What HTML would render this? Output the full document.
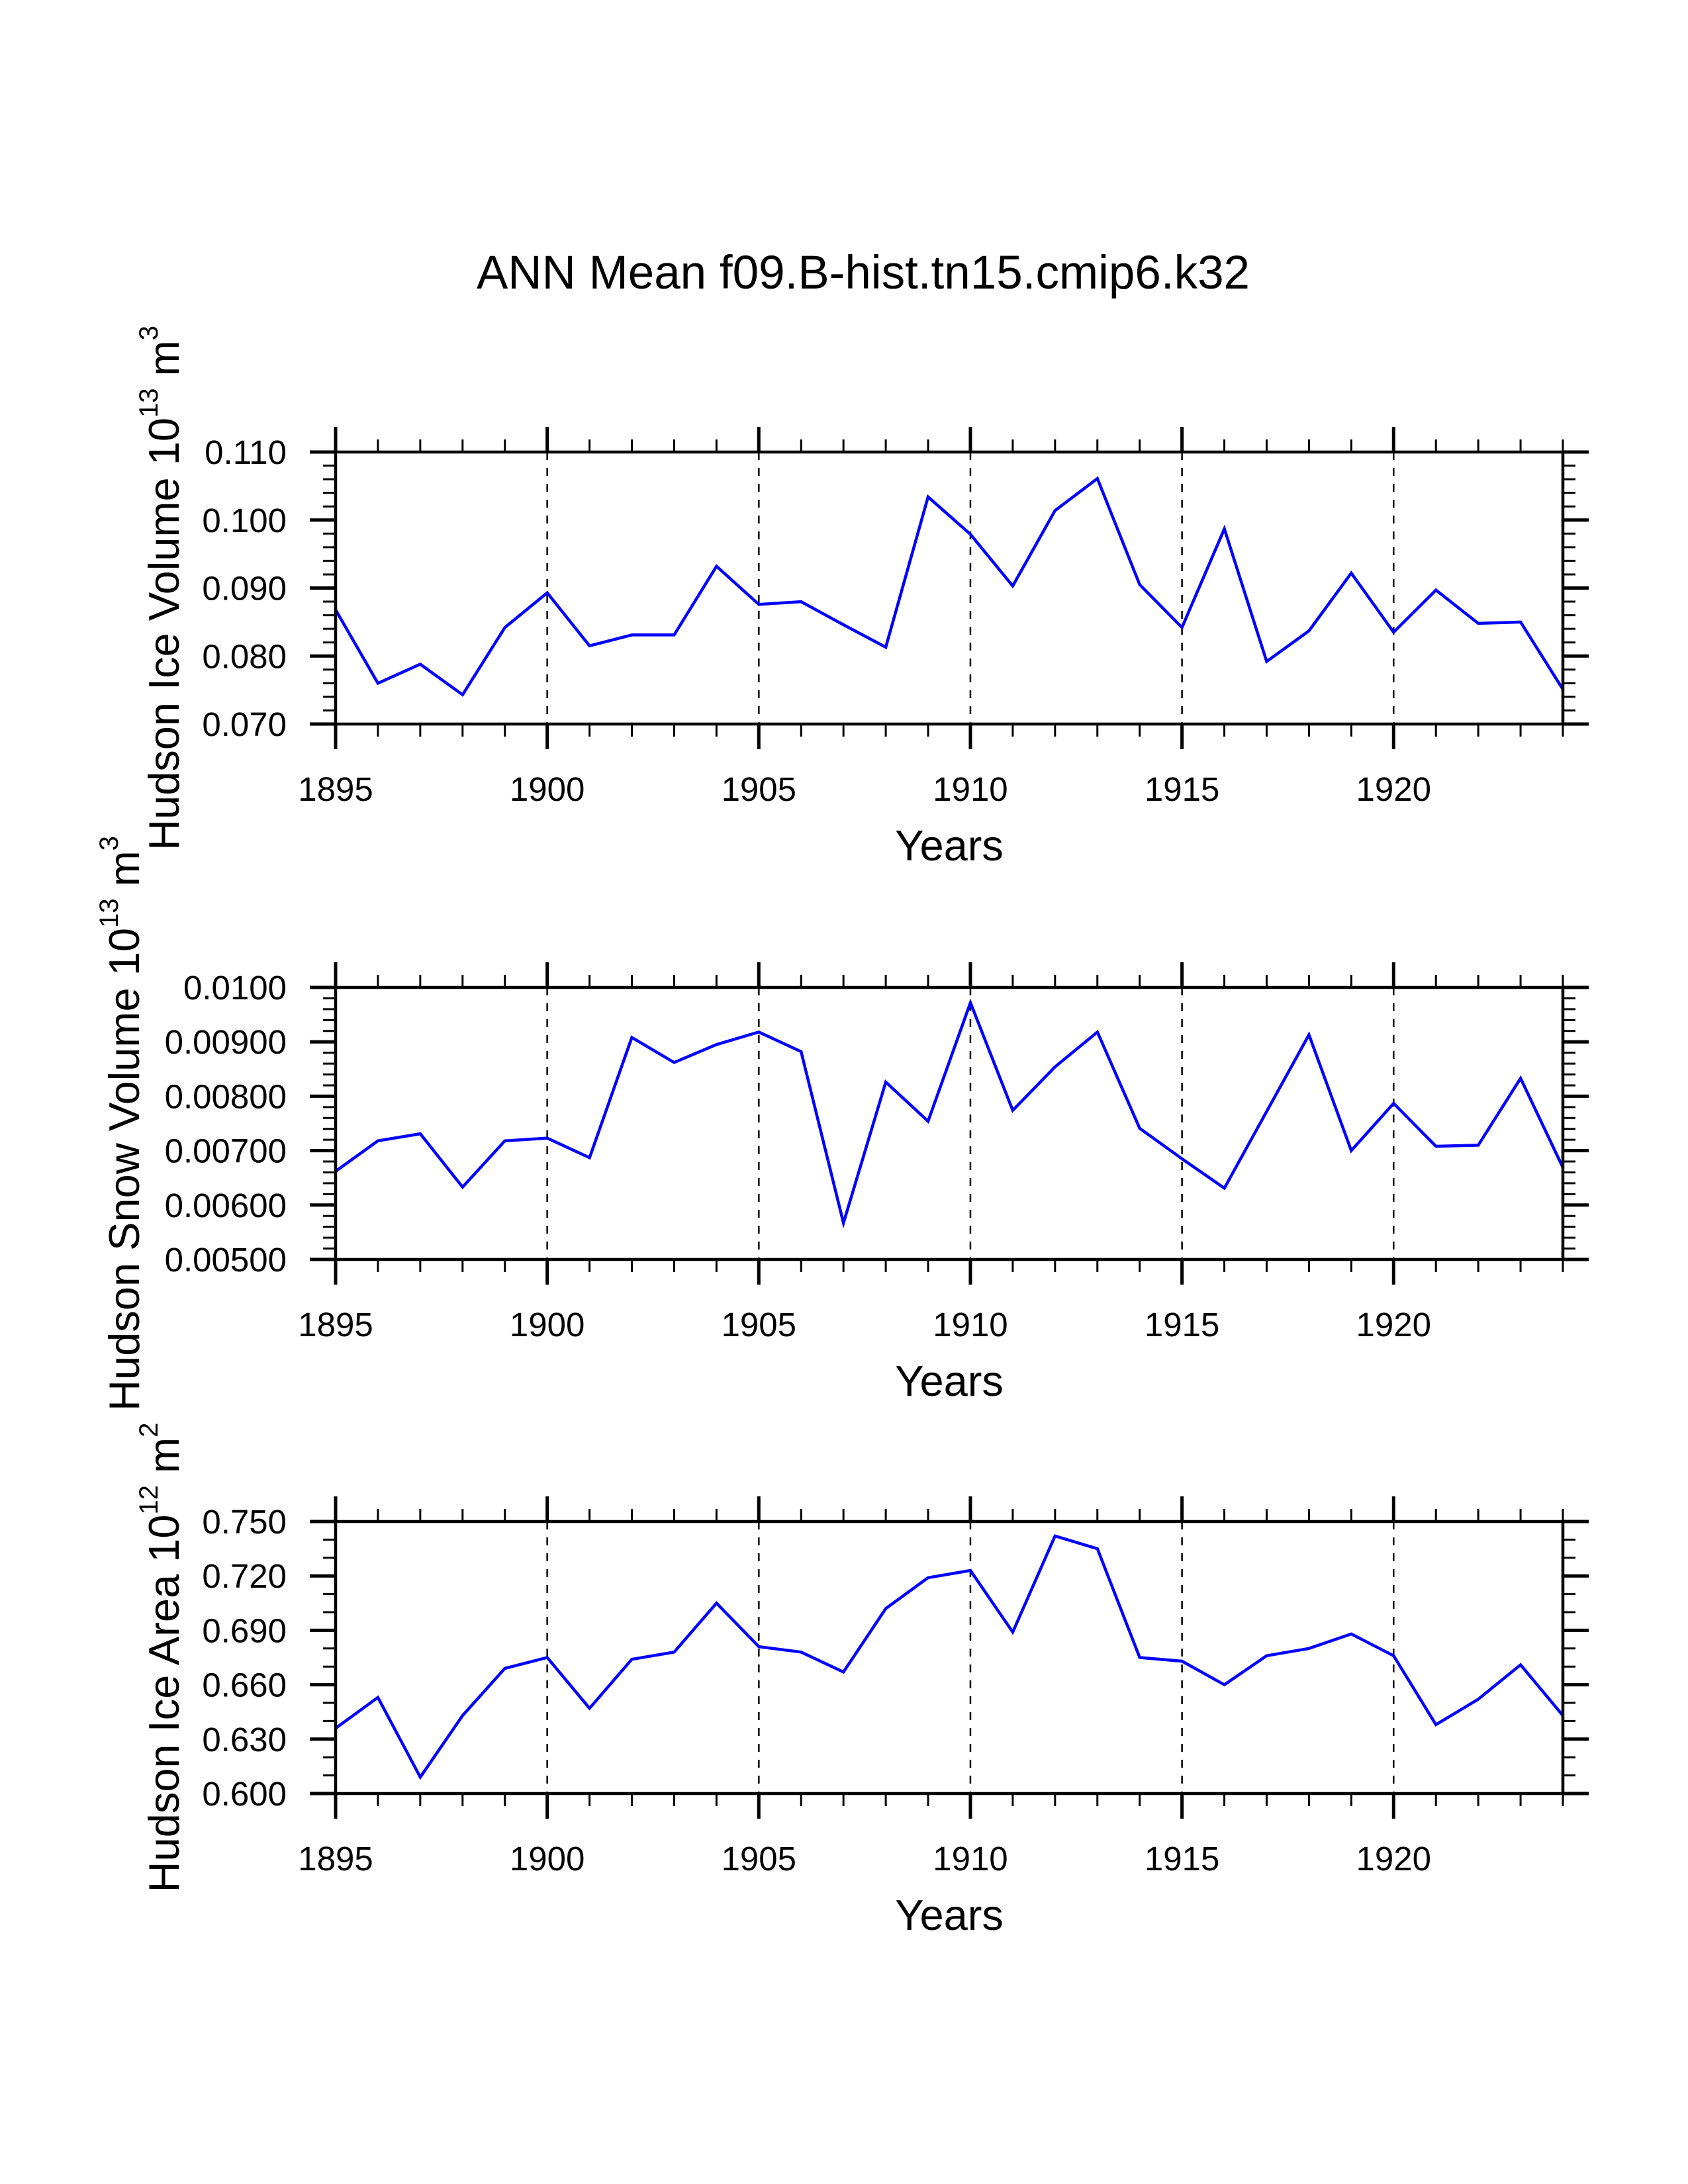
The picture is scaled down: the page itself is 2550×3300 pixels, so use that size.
<!DOCTYPE html>
<html><head><meta charset="utf-8"><style>
html,body{margin:0;padding:0;background:#fff;}
svg{display:block;font-family:"Liberation Sans",Arial,sans-serif;}
</style></head><body>
<svg id="chart" width="2550" height="3300" viewBox="0 0 2550 3300" xmlns="http://www.w3.org/2000/svg">
<rect width="2550" height="3300" fill="#fff"/>
<text x="1304" y="436" font-size="71" text-anchor="middle">ANN Mean f09.B-hist.tn15.cmip6.k32</text>
</svg>
<script>
const years = [1895,1896,1897,1898,1899,1900,1901,1902,1903,1904,1905,1906,1907,1908,1909,1910,1911,1912,1913,1914,1915,1916,1917,1918,1919,1920,1921,1922,1923,1924];
const iceVolume = [0.0868,0.0760,0.0788,0.0743,0.0842,0.0893,0.0815,0.0831,0.0831,0.0932,0.0876,0.0880,0.0846,0.0813,0.1034,0.0979,0.0903,0.1014,0.1061,0.0905,0.0842,0.0987,0.0792,0.0837,0.0922,0.0835,0.0897,0.0848,0.0850,0.0751];
const snowVolume = [0.00662,0.00718,0.00731,0.00633,0.00718,0.00723,0.00687,0.00908,0.00862,0.00895,0.00918,0.00882,0.00567,0.00826,0.00754,0.00972,0.00774,0.00854,0.00918,0.00741,0.00685,0.00631,0.00772,0.00913,0.00700,0.00787,0.00708,0.00710,0.00833,0.00669];
const iceArea = [0.636,0.653,0.609,0.643,0.669,0.675,0.647,0.674,0.678,0.705,0.681,0.678,0.667,0.702,0.719,0.723,0.689,0.742,0.735,0.675,0.673,0.660,0.676,0.680,0.688,0.676,0.638,0.652,0.671,0.643];
const xTickLabels = ["1895","1900","1905","1910","1915","1920"];
const iceVolumeTicks = ["0.070","0.080","0.090","0.100","0.110"];
const snowVolumeTicks = ["0.00500","0.00600","0.00700","0.00800","0.00900","0.0100"];
const iceAreaTicks = ["0.600","0.630","0.660","0.690","0.720","0.750"];

const NS="http://www.w3.org/2000/svg";
const svg=document.getElementById('chart');
const X0=507,X1=2361,XMIN=1895,XMAX=1924;
function xs(v){return X0+(v-XMIN)/(XMAX-XMIN)*(X1-X0);}
function mk(tag,attrs,parent){const e=document.createElementNS(NS,tag);for(const k in attrs)e.setAttribute(k,attrs[k]);(parent||svg).appendChild(e);return e;}

const panels=[
 {name:'ice-volume',top:683,data:iceVolume,ticks:iceVolumeTicks,minor:4,title:['Hudson Ice Volume 10','13',' m','3'],tx:270},
 {name:'snow-volume',top:1492,data:snowVolume,ticks:snowVolumeTicks,minor:4,title:['Hudson Snow Volume 10','13',' m','3'],tx:210},
 {name:'ice-area',top:2299,data:iceArea,ticks:iceAreaTicks,minor:2,title:['Hudson Ice Area 10','12',' m','2'],tx:270}
];
panels.forEach(p=>{
 const Y0=p.top,Y1=p.top+411;
 const vmin=parseFloat(p.ticks[0]),vmax=parseFloat(p.ticks[p.ticks.length-1]);
 const ys=v=>Y1-(v-vmin)/(vmax-vmin)*(Y1-Y0);
 const g=mk('g',{});
 
 
 xTickLabels.slice(1).forEach(t=>{
  const l=mk('line',{x1:xs(+t),x2:xs(+t),y1:Y0,y2:Y1,stroke:'#000','stroke-width':2.5,'stroke-dasharray':'12,12'},g);
  
  
 });
 const pts=years.map((y,i)=>xs(y).toFixed(1)+','+ys(p.data[i]).toFixed(1)).join(' ');
 const pl=mk('polyline',{points:pts,fill:'none',stroke:'#0000ff','stroke-width':4.5,'stroke-linejoin':'miter'},g);
 
 
 const fr=mk('rect',{x:X0,y:Y0,width:X1-X0,height:Y1-Y0,fill:'none',stroke:'#000','stroke-width':4.5},g);
 
 
 years.forEach(y=>{
  const maj=(y%5===0);const len=maj?38:19;const w=maj?5:3;
  mk('line',{x1:xs(y),x2:xs(y),y1:Y0,y2:Y0-len,stroke:'#000','stroke-width':w},g);
  mk('line',{x1:xs(y),x2:xs(y),y1:Y1,y2:Y1+len,stroke:'#000','stroke-width':w},g);
 });
 xTickLabels.forEach(t=>{
  const tx=mk('text',{x:xs(+t),y:Y1+116,'font-size':51,'text-anchor':'middle'},g);
  tx.textContent=t;
  
  
 });
 const n=p.ticks.length-1;const step=(vmax-vmin)/n;
 for(let i=0;i<=n;i++){
  const v=vmin+i*step;const y=ys(v);
  mk('line',{x1:X0,x2:X0-39,y1:y,y2:y,stroke:'#000','stroke-width':5},g);
  mk('line',{x1:X1,x2:X1+39,y1:y,y2:y,stroke:'#000','stroke-width':5},g);
  const tx=mk('text',{x:433,y:y+18,'font-size':51,'text-anchor':'end'},g);
  tx.textContent=p.ticks[i];
  
  
  if(i<n){for(let k=1;k<=p.minor;k++){const ym=ys(v+step*k/(p.minor+1));
   mk('line',{x1:X0,x2:X0-19,y1:ym,y2:ym,stroke:'#000','stroke-width':3},g);
   mk('line',{x1:X1,x2:X1+19,y1:ym,y2:ym,stroke:'#000','stroke-width':3},g);}}
 }
 const xt=mk('text',{x:(X0+X1)/2,y:Y1+206,'font-size':65,'text-anchor':'middle'},g);
 xt.textContent='Years';
 
 
 const cy=(Y0+Y1)/2;
 const yt=mk('text',{x:p.tx,y:cy,'font-size':65,'text-anchor':'middle',transform:'rotate(-90 '+p.tx+' '+cy+')'},g);
 
 
 const a=mk('tspan',{},yt);a.textContent=p.title[0];
 const b=mk('tspan',{dy:-32,'font-size':40},yt);b.textContent=p.title[1];
 const c=mk('tspan',{dy:32},yt);c.textContent=p.title[2];
 const d=mk('tspan',{dy:-32,'font-size':40},yt);d.textContent=p.title[3];
});
</script>
</body></html>
